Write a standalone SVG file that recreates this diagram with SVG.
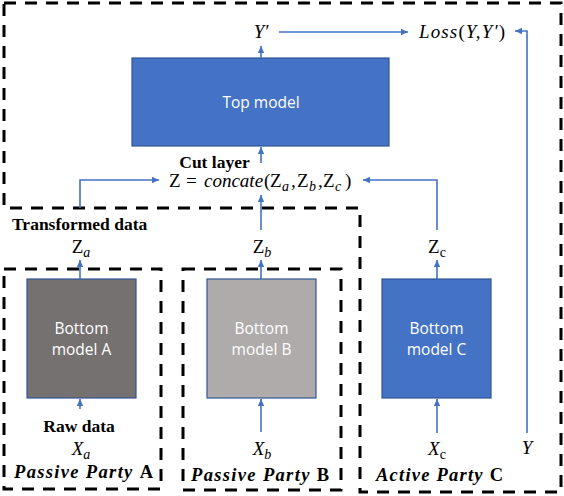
<svg xmlns="http://www.w3.org/2000/svg" width="564" height="496" viewBox="0 0 564 496">
<style>
.dash{fill:none;stroke:#000;stroke-width:3;stroke-dasharray:12 9}
.box{stroke:#2F5597;stroke-width:1.2}
.lbl{font-family:"Open Sans","Noto Sans",sans-serif;font-size:15.5px;fill:#fff;text-anchor:middle}
.bold{font-family:"Liberation Serif",serif;font-weight:bold;font-size:17.5px;fill:#000}
.math{font-family:"Liberation Serif",serif;font-style:italic;font-size:19px;fill:#000}
.up{font-style:normal}
.sub{font-size:14px}
.party{font-family:"Liberation Serif",serif;font-weight:bold;font-style:italic;font-size:18.5px;fill:#000}
.conn path{fill:none;stroke:#4472C4;stroke-width:1.6}
</style>
<defs>
<marker id="ah" markerUnits="userSpaceOnUse" markerWidth="8" markerHeight="8" refX="7" refY="4" orient="auto">
<path d="M0,0.8 L7,4 L0,7.2 Z" fill="#4472C4"/>
</marker>
</defs>
<rect width="564" height="496" fill="#fff"/>
<g id="outlines">
<path class="dash" d="M4,3 H561 V492 H360 V208 H4 Z"/>
<rect id="passiveA-frame" class="dash" x="4" y="269" width="157" height="220"/>
<rect id="passiveB-frame" class="dash" x="183" y="269" width="158" height="221"/>
</g>
<g id="top-model">
<rect class="box" x="132" y="58" width="257" height="88" fill="#4472C4"/>
<text class="lbl" x="261" y="108">Top model</text>
</g>
<g id="bottom-a">
<rect class="box" x="27" y="279" width="109" height="119" fill="#767171"/>
<text class="lbl" x="81.5" y="334">Bottom</text>
<text class="lbl" x="81.5" y="355">model A</text>
</g>
<g id="bottom-b">
<rect class="box" x="207" y="279" width="109" height="119" fill="#AFABAB"/>
<text class="lbl" x="261.5" y="334">Bottom</text>
<text class="lbl" x="261.5" y="355">model B</text>
</g>
<g id="bottom-c">
<rect class="box" x="382" y="279" width="109" height="119" fill="#4472C4"/>
<text class="lbl" x="436.5" y="334">Bottom</text>
<text class="lbl" x="436.5" y="355">model C</text>
</g>
<g id="labels">
<text class="math" x="261" y="38" text-anchor="middle">Y′</text>
<text class="math" x="419" y="38" textLength="86">Loss<tspan class="up">(</tspan>Y,Y′<tspan class="up">)</tspan></text>
<text class="bold" x="214.5" y="168" text-anchor="middle">Cut layer</text>
<text class="math" y="187"><tspan class="up" x="169">Z</tspan><tspan class="up" x="186">=</tspan><tspan x="204">concate</tspan><tspan class="up" x="264">(</tspan><tspan class="up" x="270">Z</tspan><tspan class="sub" x="282" dy="4">a</tspan><tspan x="291" dy="-4">,</tspan><tspan class="up" x="297">Z</tspan><tspan class="sub" x="309" dy="4">b</tspan><tspan x="318" dy="-4">,</tspan><tspan class="up" x="323">Z</tspan><tspan class="sub" x="335" dy="4">c</tspan><tspan class="up" x="345" dy="-4">)</tspan></text>
<text class="bold" x="12" y="230">Transformed data</text>
<text class="math" x="81" y="253" text-anchor="middle"><tspan class="up">Z</tspan><tspan class="sub" dy="4">a</tspan></text>
<text class="math" x="262" y="253" text-anchor="middle"><tspan class="up">Z</tspan><tspan class="sub" dy="4">b</tspan></text>
<text class="math" x="437" y="253" text-anchor="middle"><tspan class="up">Z</tspan><tspan class="sub up" dy="4">c</tspan></text>
<text class="bold" x="79" y="432" text-anchor="middle">Raw data</text>
<text class="math" x="81" y="455" text-anchor="middle">X<tspan class="sub" dy="4">a</tspan></text>
<text class="math" x="262" y="455" text-anchor="middle">X<tspan class="sub" dy="4">b</tspan></text>
<text class="math" x="437" y="455" text-anchor="middle">X<tspan class="sub up" dy="4">c</tspan></text>
<text class="math" x="527" y="454" text-anchor="middle">Y</text>
<text class="party" x="14" y="478" textLength="139">Passive Party <tspan font-style="normal">A</tspan></text>
<text class="party" x="191" y="481" textLength="138">Passive Party <tspan font-style="normal">B</tspan></text>
<text class="party" x="376" y="481" textLength="127">Active Party <tspan font-style="normal">C</tspan></text>
</g>
<g id="connectors" class="conn">
<path d="M279,32 H408" marker-end="url(#ah)"/>
<path d="M527,433 V31 H515" marker-end="url(#ah)"/>
<path d="M261,58 V46" marker-end="url(#ah)"/>
<path d="M261,163 V147" marker-end="url(#ah)"/>
<path d="M80,208 V180 H159" marker-end="url(#ah)"/>
<path d="M437,230 V180 H363" marker-end="url(#ah)"/>
<path d="M261,230 V195" marker-end="url(#ah)"/>
<path d="M80,279 V260" marker-end="url(#ah)"/>
<path d="M261,279 V260" marker-end="url(#ah)"/>
<path d="M437,279 V260" marker-end="url(#ah)"/>
<path d="M80,409 V399" marker-end="url(#ah)"/>
<path d="M261,432 V399" marker-end="url(#ah)"/>
<path d="M437,433 V399" marker-end="url(#ah)"/>
</g>
</svg>
